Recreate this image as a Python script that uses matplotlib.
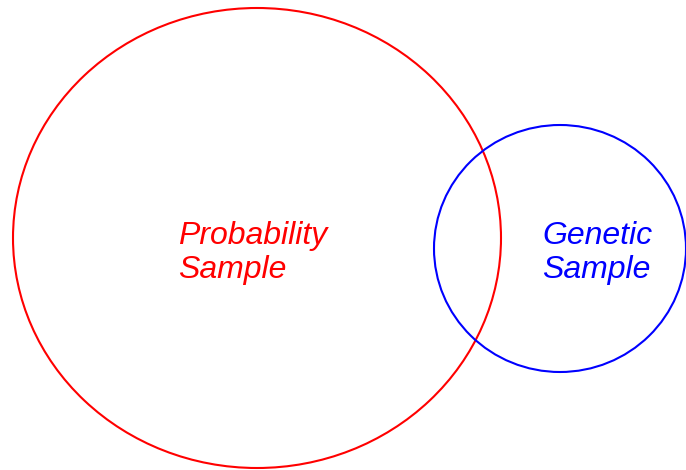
import matplotlib
matplotlib.use("Agg")
import matplotlib.pyplot as plt
from matplotlib.patches import Ellipse

# Data (pixel-space layout of the diagram)
labels = ["Probability\nSample", "Genetic\nSample"]
colors = ["#FF0000", "#0000FF"]
centers = [(257, 238), (560, 248.5)]
widths = [488, 252]
heights = [460, 247]
label_pos = [(178, 278), (542, 278)]

fig = plt.figure(figsize=(6.86, 4.70), dpi=100)
ax = fig.add_axes([0, 0, 1, 1])
ax.set_xlim(0, 686)
ax.set_ylim(470, 0)
ax.axis("off")

for c, w, h, col in zip(centers, widths, heights, colors):
    ax.add_patch(Ellipse(c, w, h, fill=False, edgecolor=col, linewidth=1.5))

for (x, y), lab, col in zip(label_pos, labels, colors):
    ax.text(x, y, lab, color=col, fontsize=23, fontstyle="italic",
            family=["Liberation Sans", "DejaVu Sans"], ha="left", va="baseline",
            linespacing=1.18)

fig.savefig("out.png", dpi=100)
